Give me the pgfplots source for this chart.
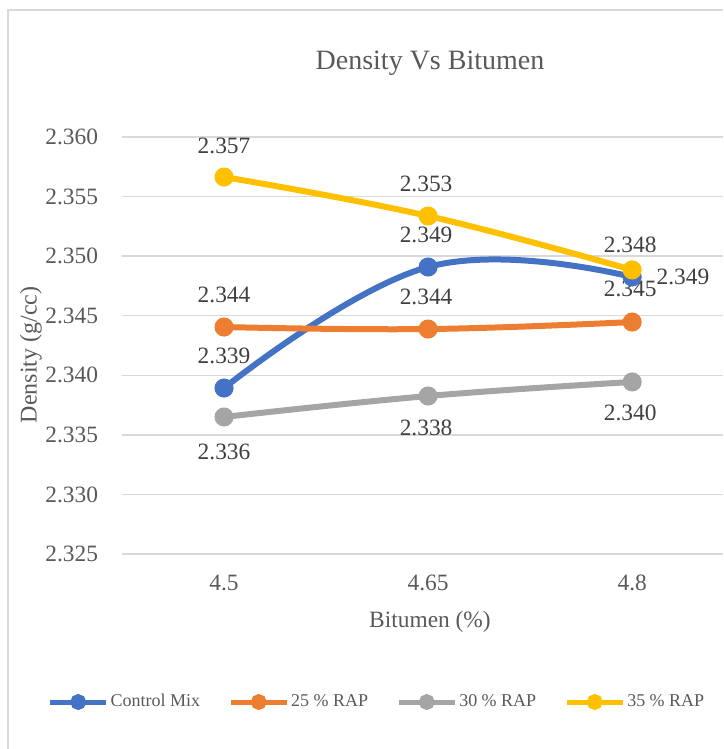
\documentclass[border=0pt]{standalone}
\usepackage{fontspec}
\setmainfont{Liberation Serif}
\usepackage{pgfplots}
\pgfplotsset{compat=1.18}

\definecolor{cblue}{HTML}{4472C4}
\definecolor{corange}{HTML}{ED7D31}
\definecolor{cgray}{HTML}{A5A5A5}
\definecolor{cyellow}{HTML}{FFC000}
\definecolor{gridc}{HTML}{D9D9D9}
\definecolor{txt}{HTML}{595959}
\definecolor{lbl}{HTML}{404040}

\newcommand{\tickfont}{\fontsize{11.7}{14}\selectfont}
\newcommand{\lab}[3]{\node[lbl, font=\tickfont] at (axis cs:#1,#2) {#3};}

\begin{document}
\begin{tikzpicture}
\useasboundingbox (0,0) rectangle (361.5pt,374.5pt);
% chart frame (cropped on the right and at the bottom)
\draw[gridc, line width=0.75pt] (4pt,0pt) -- (4pt,369.5pt) -- (361.5pt,369.5pt);

\begin{axis}[
    at={(61pt,97.5pt)}, anchor=south west,
    scale only axis, width=300.5pt, height=208.5pt,
    xmin=-0.5, xmax=2.445,
    ymin=2.325, ymax=2.360,
    xtick={0,1,2}, xticklabels={4.5,4.65,4.8},
    ytick={2.325,2.33,2.335,2.34,2.345,2.35,2.355,2.36},
    ymajorgrids,
    grid style={gridc, line width=0.75pt},
    axis line style={draw=none},
    major tick length=0pt,
    /pgf/number format/assume math mode=true,
    yticklabel style={/pgf/number format/fixed, /pgf/number format/fixed zerofill, /pgf/number format/precision=3},
    ticklabel style={font=\tickfont, text=txt},
    yticklabel style={anchor=east, inner sep=0pt, xshift=-10.5pt},
    xticklabel style={anchor=center, inner sep=0pt, yshift=-14.5pt},
    line width=3pt,
    every axis plot/.append style={smooth, tension=0.7, mark=*, mark size=3.25pt, mark options={solid}},
    legend columns=4,
    legend style={at={(0.4243,-0.355)}, anchor=center, draw=none, fill=none,
        font=\fontsize{9}{11}\selectfont, text=txt,
        nodes={inner sep=1pt},
        /tikz/every even column/.append style={column sep=13pt}},
    legend image code/.code={\draw[line width=2.5pt, mark size=2.7pt, mark repeat=2, mark phase=2] plot coordinates {(0pt,0pt) (14pt,0pt) (28pt,0pt)};},
    clip=false,
]

\addplot[cblue] coordinates {(0,2.33893) (1,2.34909) (2,2.34825)};
\addlegendentry{Control Mix}
\addplot[corange] coordinates {(0,2.34405) (1,2.34388) (2,2.34447)};
\addlegendentry{25 \% RAP}
\addplot[cgray] coordinates {(0,2.33650) (1,2.33826) (2,2.33944)};
\addlegendentry{30 \% RAP}
\addplot[cyellow] coordinates {(0,2.35664) (1,2.35337) (2,2.34884)};
\addlegendentry{35 \% RAP}

% data labels
\lab{0}{2.35924}{2.357}
\lab{0.99}{2.35606}{2.353}
\lab{1.99}{2.35094}{2.348}
\lab{0}{2.34162}{2.339}
\lab{0.99}{2.35177}{2.349}
\lab{2.249}{2.34825}{2.349}
\lab{0}{2.34674}{2.344}
\lab{0.99}{2.34657}{2.344}
\lab{1.99}{2.34724}{2.345}
\lab{0}{2.33356}{2.336}
\lab{0.99}{2.33557}{2.338}
\lab{1.99}{2.33683}{2.340}
\end{axis}

\node[txt, font=\fontsize{14}{16}\selectfont] at (215pt,343pt) {Density Vs Bitumen};
\node[txt, font=\tickfont] at (215pt,63.5pt) {Bitumen (\%)};
\node[txt, font=\fontsize{12}{14}\selectfont, rotate=90] at (15.5pt,197pt) {Density (g/cc)};
\end{tikzpicture}
\end{document}
